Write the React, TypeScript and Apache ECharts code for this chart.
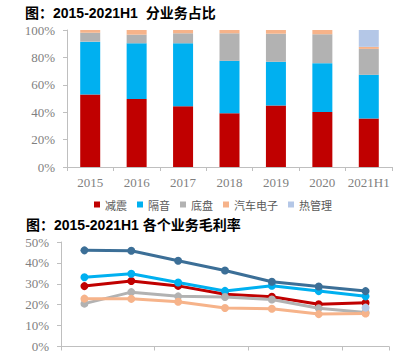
import React, { useEffect, useRef } from "react";
import * as echarts from "echarts";

const categories = ["2015", "2016", "2017", "2018", "2019", "2020", "2021H1"];
const seriesNames = ["减震", "隔音", "底盘", "汽车电子", "热管理"];
const colors = ["#C00000", "#00B0F0", "#B2B2B2", "#F6B38A", "#B4C7E7"];

// Share of business (%)
const shareDamping = [53.0, 49.6, 44.3, 39.2, 44.8, 40.2, 35.4];
const shareSound = [38.5, 40.7, 46.0, 38.3, 32.0, 35.6, 31.9];
const shareChassis = [6.5, 6.3, 7.3, 20.1, 20.5, 21.1, 18.9];
const shareElectronics = [2.0, 3.4, 2.4, 2.4, 2.7, 3.1, 1.5];
const shareThermal = [null, null, null, null, null, null, 12.3];

// Gross margin (%)
const marginTotal = [46.0, 45.8, 41.0, 36.4, 31.0, 28.7, 26.5];
const marginDamping = [28.9, 31.3, 29.0, 25.0, 23.8, 20.2, 20.9];
const marginSound = [33.1, 34.8, 30.6, 26.6, 29.1, 26.5, 24.0];
const marginChassis = [20.5, 26.0, 24.0, 23.7, 22.5, 18.3, 16.3];
const marginElectronics = [22.9, 22.8, 21.4, 18.4, 18.1, 15.5, 15.8];
const marginThermal = [null, null, null, null, null, null, 18.6];

const yTicks1 = { min: 0, max: 100, interval: 20 };
const yTicks2 = { min: 0, max: 50, interval: 10 };

const axisColor = "#BFBFBF";
const labelColor = "#7F7F7F";
const serif = "'Liberation Serif', 'Times New Roman', serif";
const sansCJK = "'Noto Sans CJK SC', sans-serif";
const titleFont = "'Liberation Sans', Arial, 'Noto Sans CJK SC', sans-serif";

export default function App() {
  const ref = useRef<HTMLDivElement>(null);
  useEffect(() => {
    if (!ref.current) return;
    const chart = echarts.init(ref.current, undefined, { renderer: "svg" });
    const shares = [shareDamping, shareSound, shareChassis, shareElectronics, shareThermal];
    const margins = [marginDamping, marginSound, marginChassis, marginElectronics, marginThermal];
    const axisCommon = {
      axisLine: { show: true, lineStyle: { color: axisColor, width: 1 } },
      axisTick: { show: true, length: 4, lineStyle: { color: axisColor } },
      splitLine: { show: false },
    };
    chart.setOption({
      animation: false,
      backgroundColor: "#fff",
      graphic: [
        {
          type: "text",
          x: 25,
          y: 13,
          style: {
            text: "图：2015-2021H1  分业务占比",
            fontSize: 14,
            fontWeight: "bold",
            fontFamily: titleFont,
            fill: "#000",
            textVerticalAlign: "middle",
          },
        },
        {
          type: "text",
          x: 26,
          y: 225,
          style: {
            text: "图：2015-2021H1 各个业务毛利率",
            fontSize: 14,
            fontWeight: "bold",
            fontFamily: titleFont,
            fill: "#000",
            textVerticalAlign: "middle",
          },
        },
      ],
      legend: {
        data: seriesNames,
        left: 94,
        top: 199,
        padding: 0,
        icon: "rect",
        itemWidth: 6,
        itemHeight: 6,
        itemGap: 10,
        textStyle: { fontSize: 11, lineHeight: 11, color: "#595959", fontFamily: sansCJK },
      },
      grid: [
        { left: 67, top: 30, width: 325, height: 137 },
        { left: 61, top: 242, width: 328, height: 108 },
      ],
      xAxis: [
        {
          type: "category",
          gridIndex: 0,
          data: categories,
          ...axisCommon,
          axisLabel: { color: labelColor, fontSize: 13, fontFamily: serif, margin: 9, interval: 0 },
        },
        {
          type: "category",
          gridIndex: 1,
          data: categories,
          ...axisCommon,
          axisLabel: { show: false },
        },
      ],
      yAxis: [
        {
          type: "value",
          gridIndex: 0,
          ...yTicks1,
          ...axisCommon,
          axisLabel: { color: labelColor, fontSize: 13, fontFamily: serif, margin: 12, formatter: "{value}%" },
        },
        {
          type: "value",
          gridIndex: 1,
          ...yTicks2,
          ...axisCommon,
          axisLabel: { color: labelColor, fontSize: 13, fontFamily: serif, margin: 12, formatter: "{value}%" },
        },
      ],
      series: [
        ...seriesNames.map((name, i) => ({
          name,
          type: "bar",
          stack: "share",
          xAxisIndex: 0,
          yAxisIndex: 0,
          barWidth: 20,
          data: shares[i],
          itemStyle: { color: colors[i] },
        })),
        ...seriesNames.map((name, i) => ({
          name,
          type: "line",
          xAxisIndex: 1,
          yAxisIndex: 1,
          data: margins[i],
          symbol: "circle",
          symbolSize: 8,
          showSymbol: true,
          lineStyle: { color: colors[i], width: 3 },
          itemStyle: { color: colors[i] },
        })),
        {
          name: "综合",
          type: "line",
          xAxisIndex: 1,
          yAxisIndex: 1,
          data: marginTotal,
          symbol: "circle",
          symbolSize: 8,
          lineStyle: { color: "#3C6F97", width: 3 },
          itemStyle: { color: "#3C6F97" },
        },
      ],
    });
    return () => chart.dispose();
  }, []);
  return (
    <div
      ref={ref}
      style={{ position: "absolute", left: 0, top: 0, width: 412, height: 353 }}
    />
  );
}
